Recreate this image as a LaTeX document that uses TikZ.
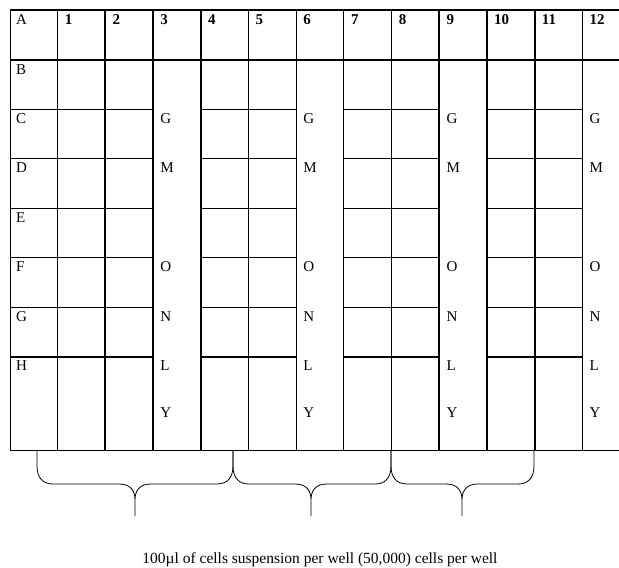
\documentclass[tikz,border=0pt]{standalone}
\usepackage{fontspec}
\setmainfont{Liberation Serif}
\usetikzlibrary{positioning}
\tikzset{
  thinline/.style={line width=0.9pt},
  thickline/.style={line width=2pt},
  lbl/.style={anchor=base west,inner sep=0pt,font=\fontsize{15}{17}\selectfont},
  num/.style={lbl,font=\fontsize{15}{17}\selectfont\bfseries},
  bracel/.style={line width=0.8pt}
}

\begin{document}
\begin{tikzpicture}[x=1pt,y=-1pt]
\useasboundingbox (0,0) rectangle (619,568);
% plate grid
\foreach \i in {0,1,5,6,7,8,12}
  \draw[thinline] ({10+47.7*\i},10) -- ({10+47.7*\i},450);
\foreach \i in {2,3,4,9,10,11}
  \draw[thickline] ({10+47.7*\i},10) -- ({10+47.7*\i},450);
\draw[thickline] (10,10) -- (619,10);
\draw[thickline] (10,59.5) -- (619,59.5);
\draw[thinline] (10,450) -- (619,450);
\foreach \a/\b in {10/153.1, 200.8/296.2, 343.9/439.3, 487/582.4} {
  \foreach \y in {109,158.5,208,257.5,307}
    \draw[thinline] (\a,\y) -- (\b,\y);
  \draw[thickline] (\a,356.5) -- (\b,356.5);
}
% labels
\node[lbl] (hdA) at (16,24) {A};
\foreach \i in {1,...,12}
  \node[num] (hd\i) at ({10+47.7*\i+7},24) {\i};
\foreach \r/\y in {B/74, C/123, D/172.5, E/222, F/271.5, G/321, H/370.5}
  \node[lbl] (row\r) at (16,\y) {\r};
\foreach \c in {3,6,9,12}
  \foreach \t/\y in {G/123, M/172.5, O/271.5, N/321, L/370.5, Y/417}
    \node[lbl] (let\c\t) at ({10+47.7*\c+7},\y) {\t};
% braces
\foreach \l/\m/\r in {37/135/233, 233/311/391, 391/462/534}
  \draw[bracel] (\l,451) -- (\l,466) .. controls (\l,478) and (\l+6,484) .. (\l+16,484)
    -- (\m-16,484) .. controls (\m-5,484) and (\m,490) .. (\m,500) -- (\m,516)
    -- (\m,500) .. controls (\m,490) and (\m+5,484) .. (\m+16,484)
    -- (\r-16,484) .. controls (\r-6,484) and (\r,478) .. (\r,466) -- (\r,451);
\node[lbl,anchor=base,font=\fontsize{15.5}{18}\selectfont] (caption) at (320,563) {100µl of cells suspension per well (50,000) cells per well};
\end{tikzpicture}
\end{document}
